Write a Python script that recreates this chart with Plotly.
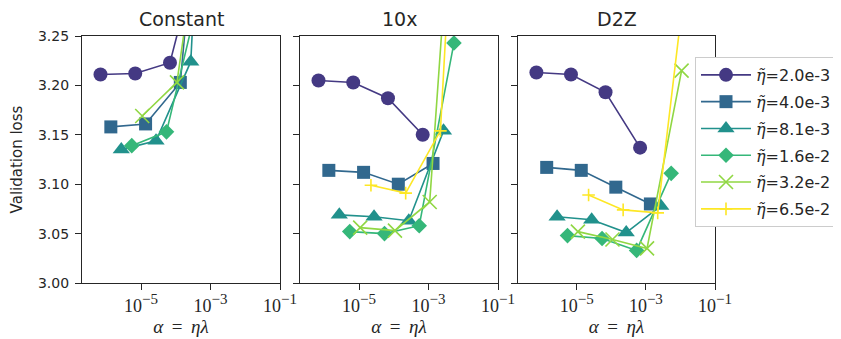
import plotly.graph_objects as go

# ---------------- data ----------------
panel_titles = ["Constant", "10x", "D2Z"]
series_names = ["2.0e-3", "4.0e-3", "8.1e-3", "1.6e-2", "3.2e-2", "6.5e-2"]
colors = ["#443983", "#31688e", "#21918c", "#35b779", "#90d743", "#fde725"]
symbols = ["circle", "square", "triangle-up", "diamond", "x-thin-open", "cross-thin-open"]
marker_sizes = [14, 13, 15, 12, 14, 9]

# alpha = eta * lambda for each series
alpha_circle = [6.8e-7, 6.8e-6, 6.8e-5, 6.8e-4]
alpha_square = [1.35e-6, 1.35e-5, 1.35e-4, 1.35e-3]
alpha_triangle = [2.7e-6, 2.7e-5, 2.7e-4, 2.7e-3]
alpha_diamond = [5.4e-6, 5.4e-5, 5.4e-4, 5.4e-3]
alpha_x = [1.08e-5, 1.08e-4, 1.08e-3, 1.08e-2]
alpha_plus = [2.2e-5, 2.2e-4, 2.2e-3, 2.2e-2]

# Constant schedule
const_circle = [3.211, 3.212, 3.223, 3.36]
const_square = [3.158, 3.161, 3.203, 3.59]
const_triangle = [3.135, 3.144, 3.224, 3.92]
const_diamond = [3.139, 3.153, 3.30]
const_x = [3.169, 3.203, 3.45]

# 10x schedule
tenx_circle = [3.205, 3.203, 3.187, 3.150]
tenx_square = [3.114, 3.112, 3.100, 3.121]
tenx_triangle = [3.069, 3.067, 3.063, 3.154]
tenx_diamond = [3.052, 3.050, 3.058, 3.243]
tenx_x = [3.056, 3.053, 3.082, 3.58]
tenx_plus = [3.099, 3.091, 3.154, 3.80]

# D2Z schedule
d2z_circle = [3.213, 3.211, 3.193, 3.137]
d2z_square = [3.117, 3.114, 3.097, 3.080]
d2z_triangle = [3.067, 3.064, 3.051, 3.078]
d2z_diamond = [3.048, 3.045, 3.033, 3.111]
d2z_x = [3.052, 3.044, 3.035, 3.215]
d2z_plus = [3.089, 3.074, 3.071, 3.366]

y_ticks = [3.00, 3.05, 3.10, 3.15, 3.20, 3.25]
x_ticks = [1e-5, 1e-3, 1e-1]
x_ticktext = ["10<sup><span style='font-size:15px'>\u22125</span></sup>",
              "10<sup><span style='font-size:15px'>\u22123</span></sup>",
              "10<sup><span style='font-size:15px'>\u22121</span></sup>"]

alphas = [alpha_circle, alpha_square, alpha_triangle, alpha_diamond, alpha_x, alpha_plus]
panels = [
    [const_circle, const_square, const_triangle, const_diamond, const_x, None],
    [tenx_circle, tenx_square, tenx_triangle, tenx_diamond, tenx_x, tenx_plus],
    [d2z_circle, d2z_square, d2z_triangle, d2z_diamond, d2z_x, d2z_plus],
]

# ---------------- figure ----------------
# page body has an 8px margin, so figure coordinates = page coordinates - 8
OFF = 8
W, H = 841 - OFF, 339 - OFF
L, R, T, B = 82 - OFF, 715 - OFF, 36 - OFF, 283.5 - OFF
pw = R - L
doms = [(0, 198 / pw), (218 / pw, 416 / pw), (436 / pw, 1.0)]

fig = go.Figure()
AX = "#262626"
serif = "Liberation Serif"
sans = "DejaVu Sans"

for p, vals in enumerate(panels):
    xa = "x" if p == 0 else f"x{p+1}"
    ya = "y" if p == 0 else f"y{p+1}"
    for s, ys in enumerate(vals):
        if ys is None:
            continue
        xs = alphas[s][: len(ys)]
        thin = symbols[s].endswith("open")
        marker = dict(symbol=symbols[s], size=marker_sizes[s], color=colors[s])
        if thin:
            marker["line"] = dict(color=colors[s], width=1.6)
        else:
            marker["line"] = dict(width=0)
        fig.add_trace(go.Scatter(
            x=xs, y=ys, mode="lines+markers",
            line=dict(color=colors[s], width=1.6),
            marker=marker,
            name=f"<span style='font-family:DejaVu Serif'><i>\u03b7\u0303</i></span>={series_names[s]}",
            legendgroup=f"g{s}",
            showlegend=(p == 2),
            xaxis=xa, yaxis=ya,
        ))

layout = dict(
    width=W, height=H,
    margin=dict(l=L, r=W - R, t=T, b=H - B, pad=0, autoexpand=False),
    plot_bgcolor="white", paper_bgcolor="white",
    font=dict(family=sans, color=AX, size=14),
    legend=dict(
        x=(695 - OFF - L) / pw, y=1 - (57 - OFF - T) / (B - T), xanchor="left", yanchor="top",
        bordercolor="#cccccc", borderwidth=1, bgcolor="white",
        font=dict(family=sans, size=16, color=AX),
        itemwidth=50, tracegroupgap=3,
    ),
    annotations=[],
)

for p in range(3):
    xk = "xaxis" if p == 0 else f"xaxis{p+1}"
    yk = "yaxis" if p == 0 else f"yaxis{p+1}"
    layout[xk] = dict(
        type="log", range=[-6.7, -1], domain=list(doms[p]),
        tickvals=x_ticks, ticktext=x_ticktext,
        ticks="outside", ticklen=6, tickwidth=1.2, tickcolor=AX,
        showline=True, linecolor=AX, linewidth=1.3, mirror=True,
        showgrid=False, zeroline=False,
        tickfont=dict(family=serif, size=18, color=AX),
        title=dict(text="<i>\u03b1</i>\u2009 = \u2009<i>\u03b7\u03bb</i>", font=dict(family=serif, size=19, color=AX), standoff=3),
        anchor="y" if p == 0 else f"y{p+1}",
    )
    layout[yk] = dict(
        range=[3.0, 3.25], domain=[0, 1],
        tickvals=y_ticks, ticktext=[f"{v:.2f}" for v in y_ticks],
        ticks="outside", ticklen=6, tickwidth=1.2, tickcolor=AX,
        showline=True, linecolor=AX, linewidth=1.3, mirror=True,
        showgrid=False, zeroline=False,
        showticklabels=(p == 0),
        tickfont=dict(family=sans, size=14, color=AX),
        anchor="x" if p == 0 else f"x{p+1}",
    )
    if p == 0:
        layout[yk]["title"] = dict(text="Validation loss", font=dict(family=sans, size=15, color=AX), standoff=12)
        layout[yk]["ticklabelstandoff"] = 3
    else:
        layout[yk]["matches"] = "y"
    layout["annotations"].append(dict(
        text=panel_titles[p], xref="paper", yref="paper",
        x=(doms[p][0] + doms[p][1]) / 2, y=1, yshift=4,
        xanchor="center", yanchor="bottom", showarrow=False,
        font=dict(family=sans, size=19, color=AX),
    ))

fig.update_layout(**layout)
fig.write_html("out.html")
